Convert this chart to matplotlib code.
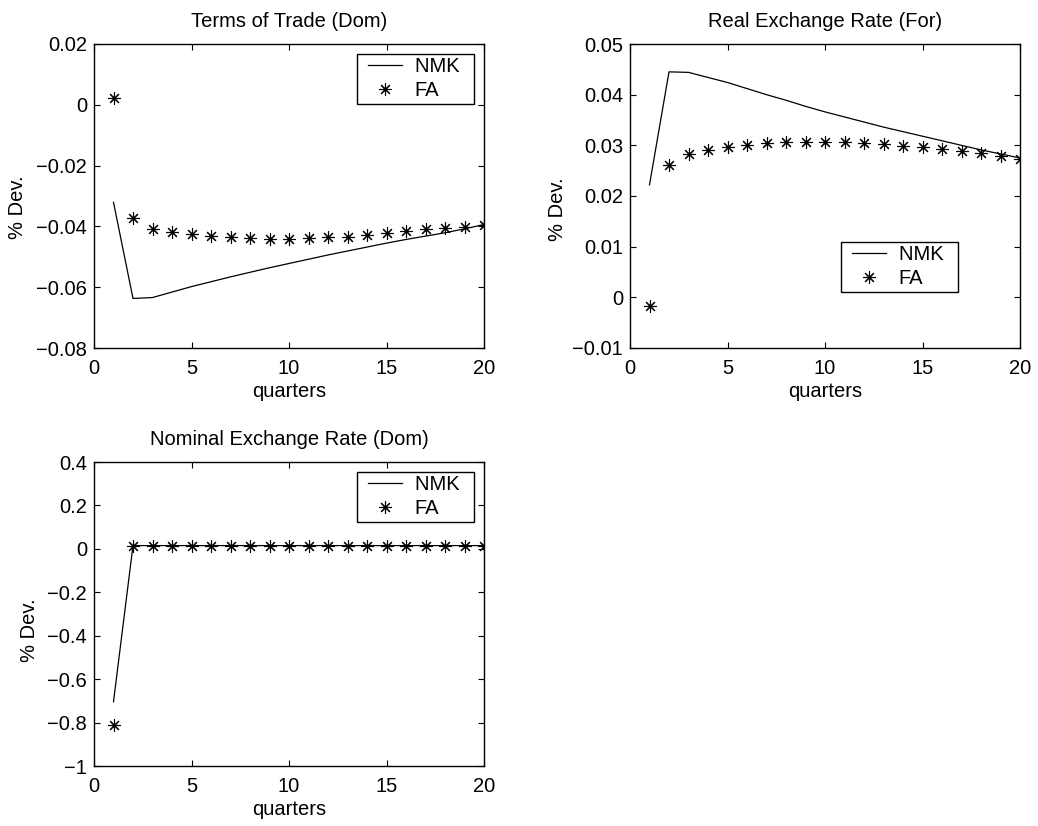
import matplotlib
matplotlib.use("Agg")
import matplotlib.pyplot as plt
from matplotlib.lines import Line2D
from matplotlib.legend_handler import HandlerLine2D
import numpy as np

plt.rcParams['font.family'] = ['Liberation Sans', 'DejaVu Sans']
FS = 14.5
plt.rcParams['font.size'] = FS

quarters = np.arange(1, 21)

# Terms of Trade (Dom)
tot_nmk = [-0.0321, -0.0637, -0.0634, -0.0616, -0.0598, -0.0582, -0.0566, -0.0551,
           -0.0536, -0.0522, -0.0508, -0.0494, -0.0481, -0.0468, -0.0455, -0.0443,
           -0.0432, -0.0421, -0.0408, -0.0394]
tot_fa = [0.0023, -0.0373, -0.0407, -0.0417, -0.0426, -0.0433, -0.0436, -0.0439,
          -0.0440, -0.0440, -0.0439, -0.0436, -0.0434, -0.0428, -0.0422, -0.0416,
          -0.0410, -0.0406, -0.0401, -0.0394]

# Real Exchange Rate (For)
rer_nmk = [0.0222, 0.0445, 0.0444, 0.0434, 0.0424, 0.0412, 0.0400, 0.0389,
           0.0377, 0.0366, 0.0356, 0.0346, 0.0336, 0.0327, 0.0318, 0.0309,
           0.0300, 0.0291, 0.0283, 0.0275]
rer_fa = [-0.0017, 0.0261, 0.0283, 0.0291, 0.0297, 0.0301, 0.0304, 0.0306,
          0.0307, 0.0307, 0.0306, 0.0304, 0.0302, 0.0299, 0.0297, 0.0292,
          0.0288, 0.0284, 0.0279, 0.0274]

# Nominal Exchange Rate (Dom)
ner_nmk = [-0.704] + [0.015] * 19
ner_fa = [-0.812] + [0.015] * 19

titles = ["Terms of Trade (Dom)", "Real Exchange Rate (For)", "Nominal Exchange Rate (Dom)"]
ylims = [(-0.08, 0.02), (-0.01, 0.05), (-1.0, 0.4)]
yticks = [np.arange(-0.08, 0.021, 0.02), np.arange(-0.01, 0.051, 0.01), np.arange(-1.0, 0.41, 0.2)]
ytick_labels = [
    ["\u22120.08", "\u22120.06", "\u22120.04", "\u22120.02", "0", "0.02"],
    ["\u22120.01", "0", "0.01", "0.02", "0.03", "0.04", "0.05"],
    ["\u22121", "\u22120.8", "\u22120.6", "\u22120.4", "\u22120.2", "0", "0.2", "0.4"],
]
series = [(tot_nmk, tot_fa), (rer_nmk, rer_fa), (ner_nmk, ner_fa)]

W, H = 1038, 826
fig = plt.figure(figsize=(W / 100, H / 100), dpi=100)
boxes = [(94, 44, 484, 348), (630, 44, 1020, 348), (94, 462, 484, 766)]
legend_anchor = [(474, 54), (958, 242), (474, 472)]
ylabel_xy = [(-0.171, 0.464), (-0.162, 0.457), (-0.141, 0.447)]

for i, (l, t, r, b) in enumerate(boxes):
    ax = fig.add_axes([l / W, 1 - b / H, (r - l) / W, (b - t) / H])
    nmk, fa = series[i]
    ax.plot(quarters, nmk, color='black', lw=0.9, label='NMK  ')
    ax.plot(quarters, fa, linestyle='none', marker=(8, 2, 0), markersize=9,
            markeredgewidth=0.8, color='black', label='FA')
    ax.set_xlim(0, 20)
    ax.set_ylim(*ylims[i])
    ax.set_xticks([0, 5, 10, 15, 20])
    ax.set_yticks(yticks[i])
    ax.set_yticklabels(ytick_labels[i])
    ax.tick_params(direction='in', top=True, right=True, length=4, width=0.8, labelsize=FS)
    ax.tick_params(axis='x', pad=8)
    ax.tick_params(axis='y', pad=5)
    for s in ax.spines.values():
        s.set_linewidth(1.0)
    ax.set_title(titles[i], fontsize=FS, pad=12)
    ax.set_xlabel('quarters', fontsize=FS, labelpad=3)
    ax.set_ylabel('% Dev.', fontsize=FS)
    ax.yaxis.set_label_coords(*ylabel_xy[i])
    lx, ly = legend_anchor[i]
    leg = ax.legend(loc='upper right', bbox_to_anchor=(lx / W, 1 - ly / H),
                    bbox_transform=fig.transFigure, frameon=True, fancybox=False,
                    edgecolor='black', framealpha=1, borderpad=0.17, labelspacing=0.25,
                    handlelength=2.07, handletextpad=0.65, borderaxespad=0, fontsize=FS,
                    handler_map={Line2D: HandlerLine2D(xpad=0.38)})
    leg.get_frame().set_linewidth(1.0)

fig.savefig('out.png', dpi=100)
